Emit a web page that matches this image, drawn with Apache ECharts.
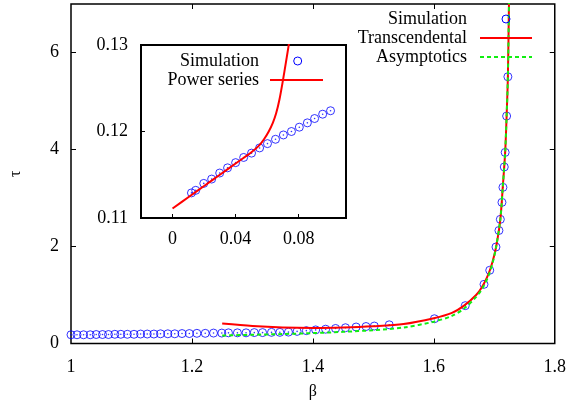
<!DOCTYPE html>
<html>
<head>
<meta charset="utf-8">
<script src="https://cdn.jsdelivr.net/npm/echarts@6/dist/echarts.min.js"></script>
<style>
  html, body { margin: 0; padding: 0; background: #fff; }
  #chart { width: 569px; height: 407px; }
</style>
</head>
<body>
<div id="chart"></div>
<script>
// main plot: simulation points
const simBeta = [1.0, 1.0099, 1.0208, 1.0318, 1.0417, 1.0521, 1.062, 1.0725, 1.0824, 1.0932, 1.1042, 1.1151,
  1.1261, 1.1371, 1.148, 1.1601, 1.1716, 1.1836, 1.1957, 1.2082, 1.222, 1.2357, 1.2494,
  1.2604, 1.2752, 1.2895, 1.3031, 1.3168, 1.3316, 1.3454, 1.3596, 1.3739, 1.3892, 1.4046, 1.4211,
  1.4375, 1.4539, 1.4715, 1.4879, 1.5016, 1.5263,
  1.601, 1.652, 1.683, 1.6925, 1.7028, 1.7077, 1.71, 1.7127, 1.7143, 1.7165, 1.718, 1.7204, 1.7225];
const simTau = [0.18, 0.18, 0.18, 0.18, 0.185, 0.185, 0.185, 0.19, 0.19, 0.19, 0.19, 0.195,
  0.195, 0.195, 0.2, 0.2, 0.2, 0.205, 0.205, 0.21, 0.21, 0.215, 0.215,
  0.22, 0.22, 0.22, 0.225, 0.225, 0.23, 0.23, 0.235, 0.25, 0.265, 0.28, 0.295,
  0.31, 0.325, 0.34, 0.35, 0.36, 0.385,
  0.51, 0.78, 1.22, 1.51, 1.99, 2.33, 2.56, 2.91, 3.22, 3.64, 3.94, 4.69, 5.5];

// transcendental solution
const transBeta = [1.25, 1.3, 1.35, 1.4, 1.45, 1.5, 1.55, 1.6, 1.63, 1.65, 1.67, 1.68, 1.69, 1.697,
  1.703, 1.71, 1.714, 1.718, 1.7204, 1.7225, 1.7245];
const transTau = [0.41, 0.36, 0.33, 0.32, 0.33, 0.355, 0.4, 0.52, 0.63, 0.78, 1.0, 1.17, 1.42, 1.68,
  1.99, 2.56, 3.22, 3.94, 4.69, 5.5, 7.2];

// asymptotics
const asymBeta = [1.25, 1.3, 1.35, 1.4, 1.45, 1.5, 1.55, 1.6, 1.63, 1.65, 1.67, 1.68, 1.69, 1.697,
  1.703, 1.71, 1.714, 1.718, 1.7204, 1.7225, 1.7245];
const asymTau = [0.165, 0.18, 0.195, 0.215, 0.24, 0.275, 0.33, 0.45, 0.57, 0.72, 0.96, 1.13, 1.38, 1.65,
  1.99, 2.56, 3.22, 3.94, 4.69, 5.5, 7.2];

// inset
const insetX = [0.012, 0.0147, 0.0198, 0.0248, 0.0299, 0.0349, 0.04, 0.0451, 0.0501, 0.0552, 0.0602,
  0.0653, 0.0703, 0.0754, 0.0804, 0.0855, 0.0901, 0.0952, 0.1002];
const insetY = [0.1129, 0.1132, 0.114, 0.1145, 0.1152, 0.1158, 0.1164, 0.117, 0.1175, 0.1181, 0.1186,
  0.1191, 0.1196, 0.12, 0.1205, 0.121, 0.1215, 0.122, 0.1224];
const powX = [0, 0.01, 0.02, 0.03, 0.04, 0.05, 0.055, 0.058, 0.061, 0.0636, 0.0657, 0.0678, 0.0699,
  0.072, 0.0741, 0.0755];
const powY = [0.1111, 0.1124, 0.1137, 0.115, 0.1163, 0.1176, 0.1184, 0.1191, 0.12, 0.121, 0.1221,
  0.1237, 0.1258, 0.1281, 0.1305, 0.1325];

// ticks
const mainXLabels = [1, 1.2, 1.4, 1.6, 1.8];
const mainXTicks = [1.2, 1.4, 1.6];
const mainYLabels = [0, 2, 4, 6];
const mainYTicks = [2, 4, 6];
const insetXLabels = [0, 0.04, 0.08];
const insetYLabels = [0.11, 0.12, 0.13];

const zip = (a, b) => a.map((v, i) => [v, b[i]]);

const FONT = '"Liberation Serif", serif';
const BLUE = '#0000ff';
const RED = '#ff0000';
const GREEN = '#11ee11';

const tickLabel = (size) => ({ fontFamily: FONT, fontSize: size, color: '#000' });

const chart = echarts.init(document.getElementById('chart'));

chart.setOption({
  animation: false,
  backgroundColor: '#fff',
  textStyle: { fontFamily: FONT },
  grid: [
    { left: 66.7, top: 4, right: 14, bottom: 63.5, show: true, borderColor: '#000', borderWidth: 1.5, backgroundColor: '#fff' },
    { left: 141, top: 45, width: 205, height: 173, show: true, borderColor: '#000', borderWidth: 2, backgroundColor: '#fff', z: 5 },
  ],
  xAxis: [
    {
      gridIndex: 0, type: 'value', min: 1, max: 1.8, position: 'bottom',
      name: 'β', nameLocation: 'middle', nameGap: 40,
      nameTextStyle: { fontFamily: FONT, fontSize: 16, color: '#000' },
      axisLine: { show: false, onZero: false },
      splitLine: { show: false },
      axisTick: { inside: true, length: 5, customValues: mainXTicks, lineStyle: { color: '#000', width: 1 } },
      axisLabel: { customValues: mainXLabels, margin: 15, ...tickLabel(18) },
    },
    {
      gridIndex: 0, type: 'value', min: 1, max: 1.8, position: 'top',
      axisLine: { show: false, onZero: false }, splitLine: { show: false }, axisLabel: { show: false },
      axisTick: { inside: true, length: 5, customValues: mainXTicks, lineStyle: { color: '#000', width: 1 } },
    },
    {
      gridIndex: 1, type: 'value', min: -0.02, max: 0.11, position: 'bottom',
      axisLine: { show: false, onZero: false }, splitLine: { show: false },
      axisTick: { inside: true, length: 4, customValues: insetXLabels, lineStyle: { color: '#000', width: 1 } },
      axisLabel: { customValues: insetXLabels, margin: 12, ...tickLabel(18) },
      z: 6,
    },
  ],
  yAxis: [
    {
      gridIndex: 0, type: 'value', min: 0, max: 7, position: 'left',
      name: 'τ', nameLocation: 'middle', nameGap: 47,
      nameTextStyle: { fontFamily: FONT, fontSize: 16, color: '#000' },
      axisLine: { show: false, onZero: false }, splitLine: { show: false },
      axisTick: { inside: true, length: 5, customValues: mainYTicks, lineStyle: { color: '#000', width: 1 } },
      axisLabel: { customValues: mainYLabels, margin: 12, ...tickLabel(18) },
    },
    {
      gridIndex: 0, type: 'value', min: 0, max: 7, position: 'right',
      axisLine: { show: false, onZero: false }, splitLine: { show: false }, axisLabel: { show: false },
      axisTick: { inside: true, length: 5, customValues: mainYTicks, lineStyle: { color: '#000', width: 1 } },
    },
    {
      gridIndex: 1, type: 'value', min: 0.11, max: 0.13, position: 'left',
      axisLine: { show: false, onZero: false }, splitLine: { show: false },
      axisTick: { inside: true, length: 4, customValues: insetYLabels, lineStyle: { color: '#000', width: 1 } },
      axisLabel: { customValues: insetYLabels, margin: 13, ...tickLabel(18) },
      z: 6,
    },
  ],
  series: [
    {
      name: 'Simulation', type: 'scatter', xAxisIndex: 0, yAxisIndex: 0,
      data: zip(simBeta, simTau), symbol: 'circle', symbolSize: 8,
      itemStyle: { color: 'rgba(0,0,0,0)', borderColor: BLUE, borderWidth: 1 },
      z: 2,
    },
    {
      name: 'Simulation dot', type: 'scatter', xAxisIndex: 0, yAxisIndex: 0,
      data: zip(simBeta, simTau), symbol: 'circle', symbolSize: 1.6,
      itemStyle: { color: BLUE }, z: 2,
    },
    {
      name: 'Transcendental', type: 'line', xAxisIndex: 0, yAxisIndex: 0,
      data: zip(transBeta, transTau), smooth: 0.3, showSymbol: false,
      lineStyle: { color: RED, width: 2 }, z: 3,
    },
    {
      name: 'Asymptotics', type: 'line', xAxisIndex: 0, yAxisIndex: 0,
      data: zip(asymBeta, asymTau), smooth: 0.3, showSymbol: false,
      lineStyle: { color: GREEN, width: 2, type: [4, 3] }, z: 4,
    },
    {
      name: 'Inset simulation', type: 'scatter', xAxisIndex: 2, yAxisIndex: 2,
      data: zip(insetX, insetY), symbol: 'circle', symbolSize: 8,
      itemStyle: { color: 'rgba(0,0,0,0)', borderColor: BLUE, borderWidth: 1 },
      z: 7,
    },
    {
      name: 'Inset dot', type: 'scatter', xAxisIndex: 2, yAxisIndex: 2,
      data: zip(insetX, insetY), symbol: 'circle', symbolSize: 1.6,
      itemStyle: { color: BLUE }, z: 7,
    },
    {
      name: 'Power series', type: 'line', xAxisIndex: 2, yAxisIndex: 2,
      data: zip(powX, powY), smooth: 0.3, showSymbol: false, clip: true,
      lineStyle: { color: RED, width: 2 }, z: 8,
    },
  ],
  // gnuplot-style keys
  graphic: [
    { type: 'text', x: 467, y: 19, z: 20, style: { text: 'Simulation', fontFamily: FONT, fontSize: 18, fill: '#000', align: 'right', verticalAlign: 'middle' } },
    { type: 'text', x: 467, y: 38, z: 20, style: { text: 'Transcendental', fontFamily: FONT, fontSize: 18, fill: '#000', align: 'right', verticalAlign: 'middle' } },
    { type: 'text', x: 467, y: 57, z: 20, style: { text: 'Asymptotics', fontFamily: FONT, fontSize: 18, fill: '#000', align: 'right', verticalAlign: 'middle' } },
    { type: 'circle', z: 20, shape: { cx: 506, cy: 19, r: 4 }, style: { fill: 'none', stroke: BLUE, lineWidth: 1 } },
    { type: 'line', z: 20, shape: { x1: 480, y1: 38, x2: 532, y2: 38 }, style: { stroke: RED, lineWidth: 2 } },
    { type: 'line', z: 20, shape: { x1: 480, y1: 57, x2: 532, y2: 57 }, style: { stroke: GREEN, lineWidth: 2, lineDash: [4, 3] } },
    { type: 'text', x: 259, y: 61, z: 20, style: { text: 'Simulation', fontFamily: FONT, fontSize: 18, fill: '#000', align: 'right', verticalAlign: 'middle' } },
    { type: 'text', x: 259, y: 80, z: 20, style: { text: 'Power series', fontFamily: FONT, fontSize: 18, fill: '#000', align: 'right', verticalAlign: 'middle' } },
    { type: 'circle', z: 20, shape: { cx: 297.7, cy: 61, r: 4 }, style: { fill: 'none', stroke: BLUE, lineWidth: 1 } },
    { type: 'line', z: 20, shape: { x1: 270, y1: 80, x2: 323, y2: 80 }, style: { stroke: RED, lineWidth: 2 } },
  ],
});

window.addEventListener('resize', () => {
  chart.resize();
});
</script>
</body>
</html>
